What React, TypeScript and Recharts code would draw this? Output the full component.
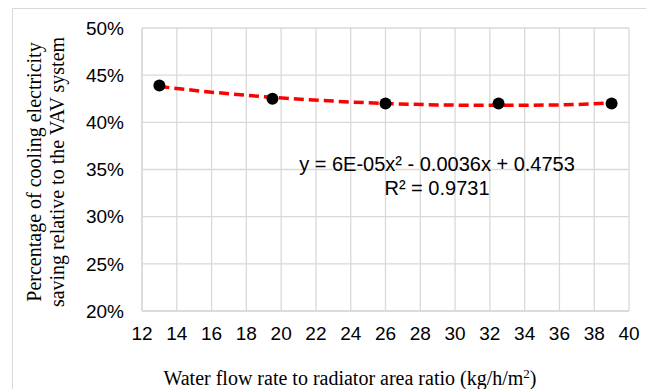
import { ComposedChart, Scatter, Line, XAxis, YAxis, CartesianGrid } from 'recharts';

// measured points
const flowRatio = [13, 19.5, 26, 32.5, 39];
const savingShare = [0.439, 0.425, 0.420, 0.420, 0.420];

// polynomial trendline
const trendX = [13, 16, 19.5, 23, 26, 29, 32.5, 36, 39];
const trendY = [0.438, 0.432, 0.4265, 0.4225, 0.420, 0.4185, 0.418, 0.4185, 0.4205];

const xTicks = [12, 14, 16, 18, 20, 22, 24, 26, 28, 30, 32, 34, 36, 38, 40];
const yTicks = [0.2, 0.25, 0.3, 0.35, 0.4, 0.45, 0.5];

const equationText = 'y = 6E-05x² - 0.0036x + 0.4753';
const rSquaredText = 'R² = 0.9731';

const points = flowRatio.map((x, i) => ({ x, y: savingShare[i] }));
const trend = trendX.map((x, i) => ({ x, y: trendY[i] }));

const gridColor = '#d9d9d9';
const sans = '"Liberation Sans", Arial, sans-serif';
const serif = '"Liberation Serif", "Times New Roman", serif';

const Dot = (props: any) => <circle cx={props.cx} cy={props.cy} r={6} fill="#000" />;

const App = () => {
  return (
    <div style={{ position: 'absolute', left: 0, top: 0, width: 646, height: 389, overflow: 'hidden', background: '#fff' }}>
      {/* outer chart frame, cropped on the right and bottom */}
      <div style={{ position: 'absolute', left: 12, top: 8, width: 700, height: 450, border: '1px solid #d9d9d9' }} />
      <ComposedChart
        width={646}
        height={389}
        margin={{ top: 28, right: 17, bottom: 0, left: 0 }}
        style={{ position: 'absolute', left: 0, top: 0 }}
      >
        <CartesianGrid stroke={gridColor} strokeWidth={1.3} />
        <XAxis
          type="number"
          dataKey="x"
          domain={[12, 40]}
          ticks={xTicks}
          allowDataOverflow
          height={78}
          tickLine={false}
          tickSize={0}
          tickMargin={16}
          axisLine={{ stroke: gridColor, strokeWidth: 1.3 }}
          tick={{ fill: '#000', fontSize: 19, fontFamily: sans }}
          interval={0}
        />
        <YAxis
          type="number"
          dataKey="y"
          domain={[0.2, 0.5]}
          ticks={yTicks}
          allowDataOverflow
          width={142}
          tickLine={false}
          tickSize={0}
          tickMargin={18}
          axisLine={{ stroke: gridColor, strokeWidth: 1.3 }}
          tick={{ fill: '#000', fontSize: 19, fontFamily: sans }}
          tickFormatter={(v: number) => `${Math.round(v * 100)}%`}
          interval={0}
        />
        <Scatter data={points} dataKey="y" shape={Dot} isAnimationActive={false} />
        <Line
          data={trend}
          dataKey="y"
          type="monotone"
          stroke="#ff0000"
          strokeWidth={3.5}
          strokeDasharray="10 5"
          dot={false}
          activeDot={false}
          isAnimationActive={false}
        />
      </ComposedChart>
      <div style={{ position: 'absolute', left: 437, top: 176, transform: 'translate(-50%, -50%)', fontFamily: sans, fontSize: 20, whiteSpace: 'nowrap', textAlign: 'center', lineHeight: '24px' }}>
        {equationText}
        <br />
        {rSquaredText}
      </div>
      <div style={{ position: 'absolute', left: 46, top: 172, transform: 'translate(-50%, -50%) rotate(-90deg)', fontFamily: serif, fontSize: 20, whiteSpace: 'nowrap', textAlign: 'center', lineHeight: '23px' }}>
        Percentage of cooling electricity
        <br />
        saving relative to the VAV system
      </div>
      <div style={{ position: 'absolute', left: 350, top: 378, transform: 'translate(-50%, -50%)', fontFamily: serif, fontSize: 20, whiteSpace: 'nowrap' }}>
        Water flow rate to radiator area ratio (kg/h/m<sup style={{ fontSize: 13 }}>2</sup>)
      </div>
    </div>
  );
};

export default App;
